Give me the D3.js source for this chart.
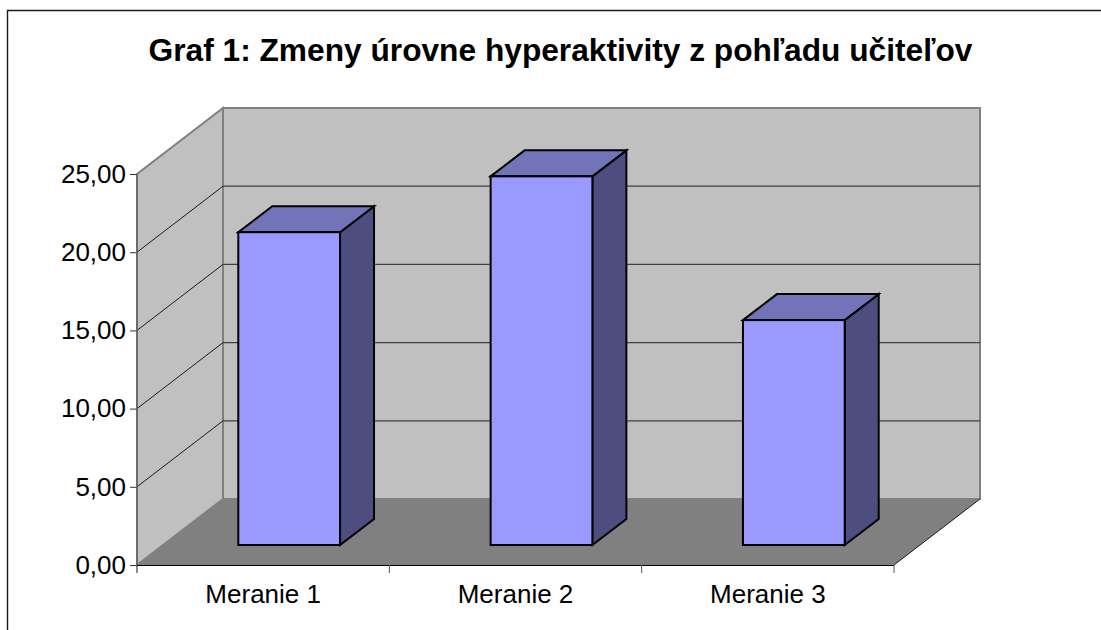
<!DOCTYPE html>
<html>
<head>
<meta charset="utf-8">
<script src="https://cdn.jsdelivr.net/npm/d3@7"></script>
<style>
  html, body { margin: 0; padding: 0; background: #fff; overflow: hidden; }
  svg { display: block; font-family: "Liberation Sans", Arial, sans-serif; }
</style>
</head>
<body>
<svg id="chart"></svg>
<script>
const titleText = "Graf 1: Zmeny úrovne hyperaktivity z pohľadu učiteľov";
const categories = ["Meranie 1", "Meranie 2", "Meranie 3"];
const values = [20.0, 23.57, 14.38];
const yTicks = [0, 5, 10, 15, 20, 25];

const width = 1101;
const height = 630;
const labelSize = 26;

// plot box front edge, the walls are shifted back from here
const plotLeft = 137;
const plotRight = 894;
const plotBottom = 565;
const plotTop = 174;
const wallX = 86;
const wallY = -66;
// bar depth and how far the bar stands back from the front of the floor
const barDepthX = 34;
const barDepthY = -26;
const barOffsetX = 26;
const barOffsetY = -20;

const svg = d3.select("#chart").attr("width", width).attr("height", height);

const xScale = d3.scaleBand().domain(categories).range([plotLeft, plotRight]);
const yScale = d3.scaleLinear().domain([0, 25]).range([plotBottom, plotTop]);
const barWidth = xScale.bandwidth() / 2.48;

const pts = (arr) => arr.map((p) => p.join(",")).join(" ");

// chart frame, only left and top show in the picture
svg
  .append("path")
  .attr("d", `M7.5,${height}V10.5H${width}`)
  .attr("fill", "none")
  .attr("stroke", "#1a1a1a")
  .attr("stroke-width", 1.4);

svg
  .append("text")
  .attr("x", 560.5)
  .attr("y", 61)
  .attr("text-anchor", "middle")
  .attr("font-size", 31.7)
  .attr("font-weight", "bold")
  .text(titleText);

const drawWalls = () => {
  // back wall
  svg
    .append("rect")
    .attr("x", plotLeft + wallX)
    .attr("y", plotTop + wallY)
    .attr("width", plotRight - plotLeft)
    .attr("height", plotBottom - plotTop)
    .attr("fill", "#c0c0c0")
    .attr("stroke", "#808080")
    .attr("stroke-width", 2);
  // side wall
  svg
    .append("polygon")
    .attr(
      "points",
      pts([
        [plotLeft, plotBottom],
        [plotLeft, plotTop],
        [plotLeft + wallX, plotTop + wallY],
        [plotLeft + wallX, plotBottom + wallY],
      ])
    )
    .attr("fill", "#c0c0c0")
    .attr("stroke", "#808080")
    .attr("stroke-width", 2);
  // floor
  svg
    .append("polygon")
    .attr(
      "points",
      pts([
        [plotLeft, plotBottom],
        [plotRight, plotBottom],
        [plotRight + wallX, plotBottom + wallY],
        [plotLeft + wallX, plotBottom + wallY],
      ])
    )
    .attr("fill", "#808080");
};

const drawGrid = () => {
  const inner = yTicks.filter((d) => d > 0 && d < 25);
  svg
    .selectAll(".grid-back")
    .data(inner)
    .enter()
    .append("line")
    .attr("class", "grid-back")
    .attr("x1", plotLeft + wallX)
    .attr("x2", plotRight + wallX)
    .attr("y1", (d) => yScale(d) + wallY)
    .attr("y2", (d) => yScale(d) + wallY)
    .attr("stroke", "#404040")
    .attr("stroke-width", 1.2);
  svg
    .selectAll(".grid-side")
    .data(inner)
    .enter()
    .append("line")
    .attr("class", "grid-side")
    .attr("x1", plotLeft)
    .attr("x2", plotLeft + wallX)
    .attr("y1", (d) => yScale(d))
    .attr("y2", (d) => yScale(d) + wallY)
    .attr("stroke", "#1a1a1a")
    .attr("stroke-width", 1);
  // front right edge of the floor
  svg
    .append("line")
    .attr("x1", plotRight)
    .attr("y1", plotBottom)
    .attr("x2", plotRight + wallX)
    .attr("y2", plotBottom + wallY)
    .attr("stroke", "#1a1a1a")
    .attr("stroke-width", 1);
};

const drawAxes = () => {
  const yAxis = d3
    .axisLeft(yScale)
    .tickValues(yTicks)
    .tickSize(7)
    .tickPadding(4)
    .tickFormat((d) => d3.format(".2f")(d).replace(".", ","));
  const gy = svg
    .append("g")
    .attr("transform", `translate(${plotLeft},0)`)
    .call(yAxis);
  gy.select(".domain").remove();
  gy.selectAll("text").attr("font-size", labelSize).attr("fill", "#000");
  gy.selectAll("line").attr("stroke", "#333");
  gy.attr("font-family", null).attr("font-size", null);

  svg
    .append("line")
    .attr("x1", plotLeft)
    .attr("x2", plotLeft)
    .attr("y1", plotTop)
    .attr("y2", plotBottom + 8)
    .attr("stroke", "#666")
    .attr("stroke-width", 1.5);

  const xAxis = d3.axisBottom(xScale).tickSize(0).tickPadding(19.5);
  const gx = svg
    .append("g")
    .attr("transform", `translate(0,${plotBottom})`)
    .call(xAxis);
  gx.select(".domain").remove();
  gx.selectAll("text").attr("font-size", labelSize).attr("fill", "#000");
  gx.attr("font-family", null).attr("font-size", null);

  svg
    .append("line")
    .attr("x1", plotLeft)
    .attr("x2", plotRight)
    .attr("y1", plotBottom + 0.5)
    .attr("y2", plotBottom + 0.5)
    .attr("stroke", "#000")
    .attr("stroke-width", 1);

  // category ticks sit on the band edges
  const edges = categories.map((c) => xScale(c)).concat([plotRight]).slice(1);
  svg
    .selectAll(".x-edge")
    .data(edges)
    .enter()
    .append("line")
    .attr("class", "x-edge")
    .attr("x1", (d) => d)
    .attr("x2", (d) => d)
    .attr("y1", plotBottom)
    .attr("y2", plotBottom + 8)
    .attr("stroke", "#555")
    .attr("stroke-width", 1);
};

const drawBars = () => {
  const bars = svg
    .selectAll(".bar")
    .data(categories.map((c, i) => ({ category: c, value: values[i] })))
    .enter()
    .append("g")
    .attr("class", "bar");

  const x0 = (d) => xScale(d.category) + xScale.bandwidth() / 2 - barWidth / 2 + barOffsetX;
  const yBase = plotBottom + barOffsetY;
  const yTop = (d) => yScale(d.value) + barOffsetY;

  const outline = (sel) =>
    sel.attr("stroke", "#000").attr("stroke-width", 2).attr("stroke-linejoin", "miter");

  bars
    .append("polygon")
    .attr("points", (d) =>
      pts([
        [x0(d) + barWidth, yBase],
        [x0(d) + barWidth, yTop(d)],
        [x0(d) + barWidth + barDepthX, yTop(d) + barDepthY],
        [x0(d) + barWidth + barDepthX, yBase + barDepthY],
      ])
    )
    .attr("fill", "#4d4d80")
    .call(outline);

  bars
    .append("polygon")
    .attr("points", (d) =>
      pts([
        [x0(d), yTop(d)],
        [x0(d) + barWidth, yTop(d)],
        [x0(d) + barWidth + barDepthX, yTop(d) + barDepthY],
        [x0(d) + barDepthX, yTop(d) + barDepthY],
      ])
    )
    .attr("fill", "#7373b9")
    .call(outline);

  bars
    .append("rect")
    .attr("x", x0)
    .attr("y", yTop)
    .attr("width", barWidth)
    .attr("height", (d) => yBase - yTop(d))
    .attr("fill", "#9999ff")
    .call(outline);
};

drawWalls();
drawGrid();
drawAxes();
drawBars();
</script>
</body>
</html>
